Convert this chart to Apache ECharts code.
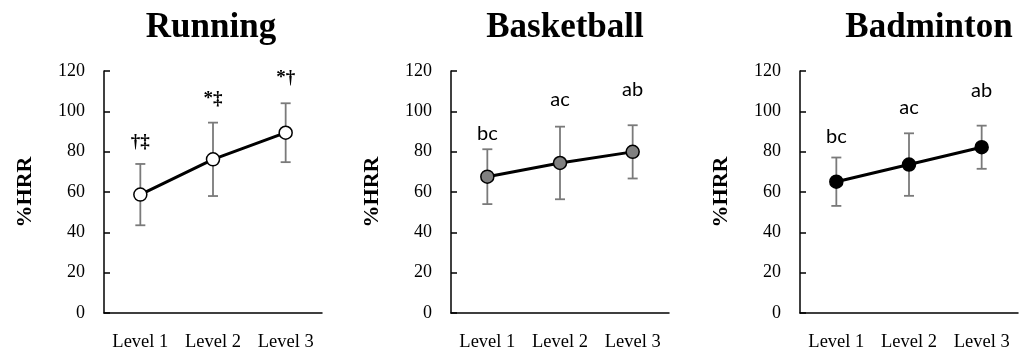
<!DOCTYPE html>
<html>
<head>
<meta charset="utf-8">
<script src="https://cdn.jsdelivr.net/npm/echarts@6/dist/echarts.min.js"></script>
<style>
  html, body { margin: 0; padding: 0; background: #fff; }
  #chart { width: 1029px; height: 354px; }
</style>
</head>
<body>
<div id="chart"></div>
<script>
// Heart-rate reserve (%HRR) by intensity level for three sports: mean ± SD
const levels = ['Level 1', 'Level 2', 'Level 3'];
const yTicks = { min: 0, max: 120, step: 20 };

const sports = ['Running', 'Basketball', 'Badminton'];

const runningMean = [58.7, 76.2, 89.4];
const runningSD = [15.2, 18.2, 14.6];
const runningTags = ['†‡', '*‡', '*†'];

const basketballMean = [67.6, 74.4, 79.9];
const basketballSD = [13.6, 18.0, 13.2];
const basketballTags = ['bc', 'ac', 'ab'];

const badmintonMean = [65.1, 73.6, 82.2];
const badmintonSD = [12.0, 15.5, 10.7];
const badmintonTags = ['bc', 'ac', 'ab'];

// ---- layout and styling ----
const panels = [
  { mean: runningMean, sd: runningSD, tags: runningTags, fill: '#ffffff',
    left: 104, right: 707, titleX: 211, tagFont: 'bold 19px "Liberation Serif"', tagLift: [22, 24, 25] },
  { mean: basketballMean, sd: basketballSD, tags: basketballTags, fill: '#808080',
    left: 451, right: 360, titleX: 565, tagFont: '20px Lato', tagLift: [16, 27, 36] },
  { mean: badmintonMean, sd: badmintonSD, tags: badmintonTags, fill: '#000000',
    left: 800, right: 11, titleX: 929, tagFont: '20px Lato', tagLift: [21, 26, 35] }
];

const serif = '"Liberation Serif", "Times New Roman", serif';

const grid = [], xAxis = [], yAxis = [], series = [], graphic = [];

panels.forEach((p, k) => {
  grid.push({ left: p.left, right: p.right, top: 71, bottom: 41, containLabel: false });

  xAxis.push({
    type: 'category', gridIndex: k, data: levels, boundaryGap: true,
    axisLine: { lineStyle: { color: '#000', width: 1.5 } },
    axisTick: { inside: true, length: 5, lineStyle: { color: '#000', width: 1.5 } },
    axisLabel: { interval: 0, hideOverlap: false, margin: 20, color: '#000', fontFamily: serif, fontSize: 18.5 },
    splitLine: { show: false }
  });

  yAxis.push({
    type: 'value', gridIndex: k, min: yTicks.min, max: yTicks.max, interval: yTicks.step,
    name: '%HRR', nameLocation: 'middle', nameRotate: 90, nameGap: 68,
    nameTextStyle: { fontFamily: serif, fontWeight: 'bold', fontSize: 22, color: '#000' },
    axisLine: { show: true, lineStyle: { color: '#000', width: 1.5 } },
    axisTick: { show: true, inside: true, length: 6, lineStyle: { color: '#000', width: 1.5 } },
    axisLabel: { margin: 19, color: '#000', fontFamily: serif, fontSize: 18 },
    splitLine: { show: false }
  });

  const bars = p.mean.map((m, i) => [i, m - p.sd[i], m + p.sd[i]]);

  // error bars with caps
  series.push({
    type: 'custom', xAxisIndex: k, yAxisIndex: k, z: 2,
    data: bars,
    renderItem: (params, api) => {
      const i = api.value(0);
      const lo = api.coord([i, api.value(1)]);
      const hi = api.coord([i, api.value(2)]);
      const half = 5;
      const st = { stroke: '#7a7a7a', lineWidth: 1.8 };
      return {
        type: 'group',
        children: [
          { type: 'line', shape: { x1: lo[0], y1: lo[1], x2: hi[0], y2: hi[1] }, style: st },
          { type: 'line', shape: { x1: hi[0] - half, y1: hi[1], x2: hi[0] + half, y2: hi[1] }, style: st },
          { type: 'line', shape: { x1: lo[0] - half, y1: lo[1], x2: lo[0] + half, y2: lo[1] }, style: st }
        ]
      };
    }
  });

  // significance tags above each bar
  series.push({
    type: 'custom', xAxisIndex: k, yAxisIndex: k, z: 4,
    data: bars,
    renderItem: (params, api) => {
      const i = api.value(0);
      const hi = api.coord([i, api.value(2)]);
      return {
        type: 'text',
        style: {
          x: hi[0], y: hi[1] - p.tagLift[params.dataIndex],
          text: p.tags[params.dataIndex], font: p.tagFont,
          fill: '#000', textAlign: 'center', textVerticalAlign: 'middle'
        }
      };
    }
  });

  // mean line with markers
  series.push({
    type: 'line', xAxisIndex: k, yAxisIndex: k, z: 3,
    data: p.mean,
    symbol: 'circle', symbolSize: 13,
    lineStyle: { color: '#000', width: 3 },
    itemStyle: { color: p.fill, borderColor: '#000', borderWidth: 1.5 },
    emphasis: { disabled: true },
    animation: false
  });

  graphic.push({
    type: 'text', x: p.titleX, y: 28,
    style: {
      text: sports[k], font: 'bold 35px ' + serif, fill: '#000',
      textAlign: 'center', textVerticalAlign: 'middle'
    }
  });
});

const chart = echarts.init(document.getElementById('chart'), null, { renderer: 'canvas' });
chart.setOption({
  backgroundColor: '#fff',
  animation: false,
  grid, xAxis, yAxis, series, graphic
});
</script>
</body>
</html>
